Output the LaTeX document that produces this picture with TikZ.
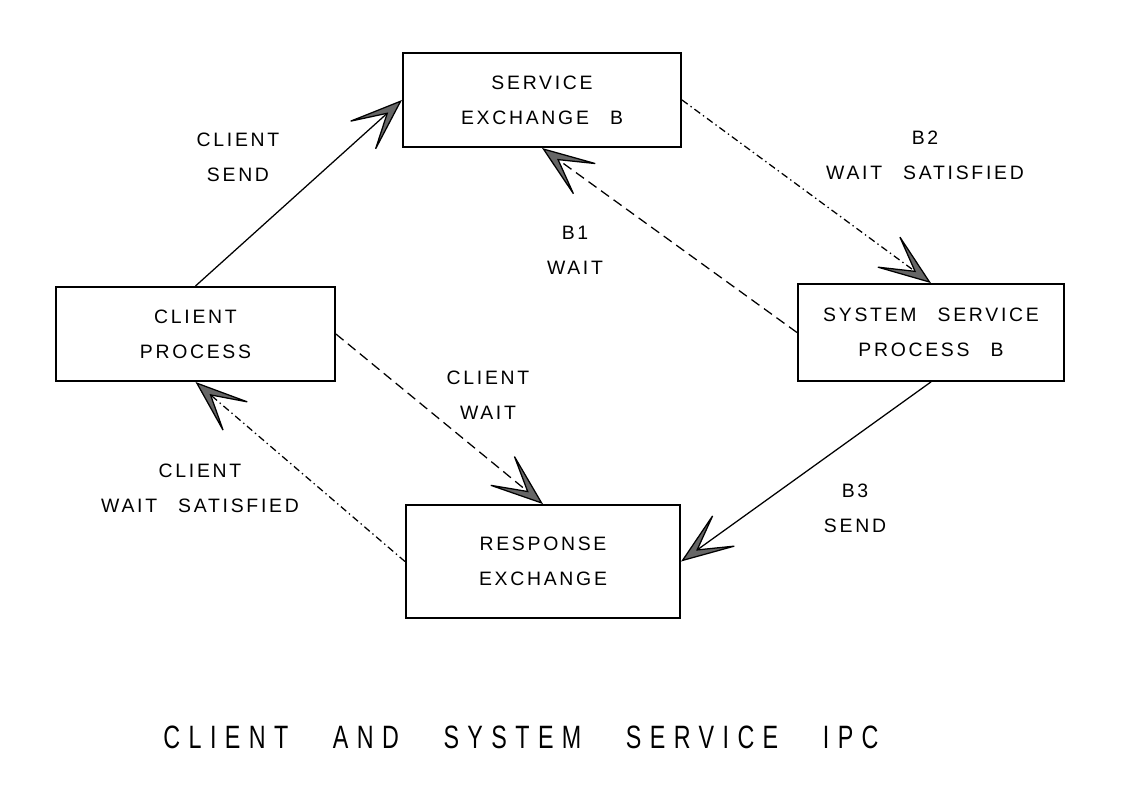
\documentclass[tikz,border=0pt]{standalone}
\usepackage{fontspec}
\setmainfont{Liberation Sans}[LetterSpace=14, WordSpace=2.6]
\newfontfamily\titlefont{Liberation Sans}[FakeStretch=0.72, LetterSpace=26, WordSpace=3.0]
\usetikzlibrary{arrows.meta, positioning}

\begin{document}
\begin{tikzpicture}[
  x=0.025cm, y=-0.025cm,
  every node/.style={font=\fontsize{13.8}{25}\selectfont},
  ipcbox/.style={draw, line width=1.4pt, align=center, inner sep=0pt},
  lbl/.style={align=center},
  barb/.style={line width=0.9pt,
               -{Stealth[length=42pt, width=31pt, inset=27pt, fill=black!60]}},
  sendln/.style={barb},
  waitln/.style={barb, dash pattern=on 7pt off 4pt},
  satln/.style={barb, dash pattern=on 5pt off 2.5pt on 1pt off 2.5pt},
]
  \useasboundingbox (0,0) rectangle (1124,800);

  % the four boxes
  \node[ipcbox, minimum width=6.95cm, minimum height=2.35cm] (svcx) at (542,100)
    {SERVICE\\EXCHANGE B};
  \node[ipcbox, minimum width=6.97cm, minimum height=2.35cm] (clp) at (195.5,334)
    {CLIENT\\PROCESS};
  \node[ipcbox, minimum width=6.65cm, minimum height=2.42cm] (ssp) at (931,332.5)
    {SYSTEM SERVICE\\PROCESS B};
  \node[ipcbox, minimum width=6.85cm, minimum height=2.82cm] (rspx) at (543,561.5)
    {RESPONSE\\EXCHANGE};

  % connectors
  \draw[sendln] (clp.north) -- (svcx.west);
  \draw[satln]  (svcx.east) -- (ssp.north);
  \draw[waitln] (ssp.west)  -- (svcx.south);
  \draw[waitln] (clp.east)  -- (rspx.north);
  \draw[sendln] (ssp.south) -- (rspx.east);
  \draw[satln]  (rspx.west) -- (clp.south);

  % labels
  \node[lbl] (lsend)  at (238,157) {CLIENT\\SEND};
  \node[lbl] (lb2)    at (925,155) {B2\\WAIT SATISFIED};
  \node[lbl] (lb1)    at (575,250) {B1\\WAIT};
  \node[lbl] (lcwait) at (488,395) {CLIENT\\WAIT};
  \node[lbl] (lcsat)  at (200,488) {CLIENT\\WAIT SATISFIED};
  \node[lbl] (lb3)    at (855,508) {B3\\SEND};

  \node[font=\titlefont\fontsize{23}{28}\selectfont] (title) at (521,737)
    {CLIENT AND SYSTEM SERVICE IPC};
\end{tikzpicture}
\end{document}
